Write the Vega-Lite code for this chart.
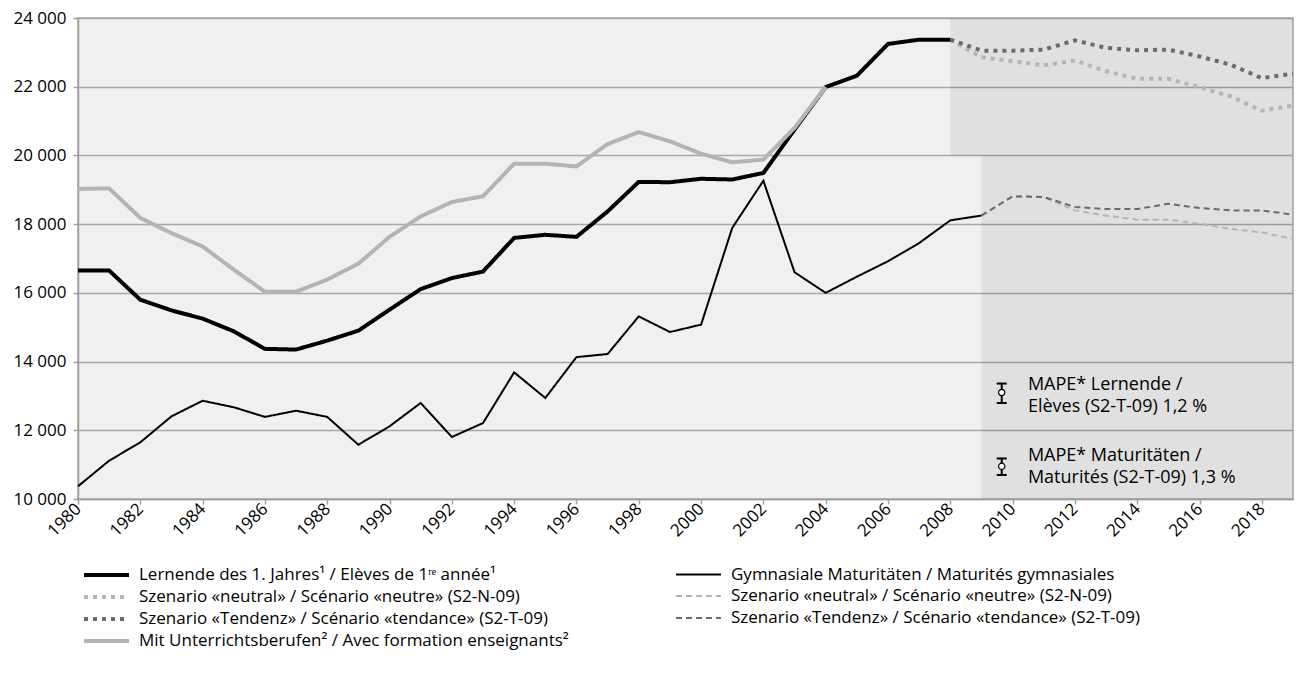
{
  "$schema": "https://vega.github.io/schema/vega-lite/v6.json",
  "width": 1215,
  "height": 481,
  "autosize": {"type": "none"},
  "padding": {"left": 78, "top": 18, "right": 7, "bottom": 174},
  "background": "white",
  "config": {
    "view": {"fill": "#f0f0f0", "stroke": "#a6a6a6", "strokeWidth": 1.5},
    "font": "Open Sans",
    "axis": {"labelFont": "Open Sans", "labelFontSize": 17, "labelColor": "#000000", "domainColor": "#a0a0a0", "domainWidth": 1.5, "tickColor": "#a0a0a0", "tickWidth": 1.5, "tickSize": 5, "gridColor": "#a8a8a8", "gridWidth": 1.3, "title": null},
    "legend": {
      "orient": "none", "legendX": 17.5, "legendY": 546, "columns": 2, "columnPadding": 102, "rowPadding": 3,
      "symbolType": "M-2.5,0H2.5", "symbolSize": 324, "labelFont": "Open Sans", "labelFontSize": 17, "labelColor": "#000000", "labelOffset": 21.5, "padding": 0, "title": null, "labelLimit": 700
    }
  },
  "datasets": {
    "series": [
      {"year": 1980, "L": 16650, "M": 10370, "U": 19025},
      {"year": 1981, "L": 16650, "M": 11115, "U": 19040},
      {"year": 1982, "L": 15800, "M": 11650, "U": 18180},
      {"year": 1983, "L": 15490, "M": 12405, "U": 17740},
      {"year": 1984, "L": 15250, "M": 12860, "U": 17350},
      {"year": 1985, "L": 14880, "M": 12670, "U": 16675},
      {"year": 1986, "L": 14370, "M": 12390, "U": 16035},
      {"year": 1987, "L": 14350, "M": 12570, "U": 16035},
      {"year": 1988, "L": 14610, "M": 12390, "U": 16385},
      {"year": 1989, "L": 14900, "M": 11580, "U": 16850},
      {"year": 1990, "L": 15510, "M": 12115, "U": 17630},
      {"year": 1991, "L": 16110, "M": 12795, "U": 18225},
      {"year": 1992, "L": 16430, "M": 11805, "U": 18645},
      {"year": 1993, "L": 16620, "M": 12210, "U": 18810},
      {"year": 1994, "L": 17600, "M": 13685, "U": 19760},
      {"year": 1995, "L": 17690, "M": 12940, "U": 19760},
      {"year": 1996, "L": 17630, "M": 14130, "U": 19680},
      {"year": 1997, "L": 18370, "M": 14220, "U": 20330},
      {"year": 1998, "L": 19230, "M": 15315, "U": 20680},
      {"year": 1999, "L": 19220, "M": 14860, "U": 20410},
      {"year": 2000, "L": 19320, "M": 15075, "U": 20050},
      {"year": 2001, "L": 19300, "M": 17890, "U": 19800},
      {"year": 2002, "L": 19490, "M": 19265, "U": 19880},
      {"year": 2003, "L": 20750, "M": 16600, "U": 20800},
      {"year": 2004, "L": 21990, "M": 16000, "U": 21990},
      {"year": 2005, "L": 22320, "M": 16470},
      {"year": 2006, "L": 23245, "M": 16920},
      {"year": 2007, "L": 23370, "M": 17450},
      {"year": 2008, "L": 23370, "M": 18110, "LN": 23370, "LT": 23370},
      {"year": 2009, "M": 18250, "LN": 22860, "LT": 23050, "MN": 18250, "MT": 18250},
      {"year": 2010, "LN": 22740, "LT": 23050, "MN": 18810, "MT": 18810},
      {"year": 2011, "LN": 22620, "LT": 23080, "MN": 18790, "MT": 18790},
      {"year": 2012, "LN": 22760, "LT": 23350, "MN": 18400, "MT": 18500},
      {"year": 2013, "LN": 22450, "LT": 23130, "MN": 18250, "MT": 18440},
      {"year": 2014, "LN": 22230, "LT": 23060, "MN": 18130, "MT": 18440},
      {"year": 2015, "LN": 22230, "LT": 23080, "MN": 18130, "MT": 18590},
      {"year": 2016, "LN": 21990, "LT": 22880, "MN": 18010, "MT": 18470},
      {"year": 2017, "LN": 21720, "LT": 22640, "MN": 17860, "MT": 18400},
      {"year": 2018, "LN": 21300, "LT": 22250, "MN": 17760, "MT": 18400},
      {"year": 2019, "LN": 21450, "LT": 22380, "MN": 17570, "MT": 18275}
    ],
    "zones": [
      {"from": 2008, "to": 2019, "low": 20000, "high": 24000},
      {"from": 2009, "to": 2019, "low": 10000, "high": 20000}
    ],
    "mape": [
      {"x": 2009.65, "lo": 12795, "hi": 13360, "mid": 13100, "tx": 2010.49, "ty": 13327, "label": "MAPE* Lernende /\nElèves (S2-T-09) 1,2 %"},
      {"x": 2009.65, "lo": 10700, "hi": 11180, "mid": 10950, "tx": 2010.49, "ty": 11240, "label": "MAPE* Maturitäten /\nMaturités (S2-T-09) 1,3 %"}
    ]
  },
  "layer": [
    {
      "data": {"name": "zones"},
      "mark": {"type": "rect", "color": "#000000", "opacity": 0.065},
      "encoding": {
        "x": {"field": "from", "type": "quantitative", "scale": {"domain": [1980, 2019], "nice": false, "zero": false},
              "axis": {"values": [1980,1982,1984,1986,1988,1990,1992,1994,1996,1998,2000,2002,2004,2006,2008,2010,2012,2014,2016,2018], "labelAngle": -45, "labelAlign": "right", "labelBaseline": "middle", "labelPadding": 2, "grid": false, "format": "d", "labelOverlap": false, "labelFlush": false}},
        "x2": {"field": "to"},
        "y": {"field": "low", "type": "quantitative", "scale": {"domain": [10000, 24000], "nice": false, "zero": false},
              "axis": {"values": [10000,12000,14000,16000,18000,20000,22000,24000], "grid": true, "labelPadding": 7, "labelExpr": "replace(format(datum.value, ','), ',', ' ')"}},
        "y2": {"field": "high"}
      }
    },
    {
      "data": {"name": "series"},
      "transform": [
        {"fold": ["L", "M", "U", "LN", "LT", "MN", "MT"], "as": ["key", "value"]},
        {"filter": "isValid(datum.value)"}
      ],
      "encoding": {
        "x": {"field": "year", "type": "quantitative", "title": null},
        "y": {"field": "value", "type": "quantitative", "title": null},
        "color": {"field": "key", "type": "nominal",
          "scale": {"domain": ["L", "LN", "LT", "U", "M", "MN", "MT"], "range": ["#000000", "#b4b4b4", "#6b6b6b", "#b4b4b4", "#000000", "#b4b4b4", "#6b6b6b"]},
          "legend": {"labelExpr": "datum.label == 'L' ? 'Lernende des 1. Jahres¹ / Elèves de 1ʳᵉ année¹' : datum.label == 'M' ? 'Gymnasiale Maturitäten / Maturités gymnasiales' : (datum.label == 'LN' || datum.label == 'MN') ? 'Szenario «neutral» / Scénario «neutre» (S2-N-09)' : (datum.label == 'LT' || datum.label == 'MT') ? 'Szenario «Tendenz» / Scénario «tendance» (S2-T-09)' : 'Mit Unterrichtsberufen² / Avec formation enseignants²'"}},
        "strokeDash": {"field": "key", "type": "nominal",
          "scale": {"domain": ["L", "LN", "LT", "U", "M", "MN", "MT"], "range": [[1, 0], [4, 5], [4, 5], [1, 0], [1, 0], [6, 4], [6, 4]]}},
        "strokeWidth": {"field": "key", "type": "nominal",
          "scale": {"type": "ordinal", "domain": ["L", "LN", "LT", "U", "M", "MN", "MT"], "range": [4, 4, 4, 4, 2, 2, 2]}}
      },
      "layer": [
        {"transform": [{"filter": "datum.key == 'MN'"}], "mark": "line"},
        {"transform": [{"filter": "datum.key == 'MT'"}], "mark": "line"},
        {"transform": [{"filter": "datum.key == 'LN'"}], "mark": "line"},
        {"transform": [{"filter": "datum.key == 'LT'"}], "mark": "line"},
        {"transform": [{"filter": "datum.key == 'M'"}], "mark": "line"},
        {"transform": [{"filter": "datum.key == 'L'"}], "mark": "line"},
        {"transform": [{"filter": "datum.key == 'U'"}], "mark": "line"}
      ]
    },
    {
      "data": {"name": "mape"},
      "layer": [
        {"mark": {"type": "rule", "color": "#000000", "strokeWidth": 2},
         "encoding": {"x": {"field": "x", "type": "quantitative"}, "y": {"field": "lo", "type": "quantitative"}, "y2": {"field": "hi"}}},
        {"mark": {"type": "tick", "orient": "horizontal", "color": "#000000", "size": 10, "thickness": 2, "opacity": 1},
         "encoding": {"x": {"field": "x", "type": "quantitative"}, "y": {"field": "lo", "type": "quantitative"}}},
        {"mark": {"type": "tick", "orient": "horizontal", "color": "#000000", "size": 10, "thickness": 2, "opacity": 1},
         "encoding": {"x": {"field": "x", "type": "quantitative"}, "y": {"field": "hi", "type": "quantitative"}}},
        {"mark": {"type": "point", "shape": "circle", "filled": true, "fill": "#ffffff", "stroke": "#000000", "strokeWidth": 1.2, "size": 40, "opacity": 1},
         "encoding": {"x": {"field": "x", "type": "quantitative"}, "y": {"field": "mid", "type": "quantitative"}}},
        {"mark": {"type": "text", "align": "left", "baseline": "middle", "font": "Open Sans", "fontSize": 18, "color": "#000000", "lineBreak": "\n", "lineHeight": 22},
         "encoding": {"x": {"field": "tx", "type": "quantitative"}, "y": {"field": "ty", "type": "quantitative"}, "text": {"field": "label"}}}
      ]
    }
  ]
}
